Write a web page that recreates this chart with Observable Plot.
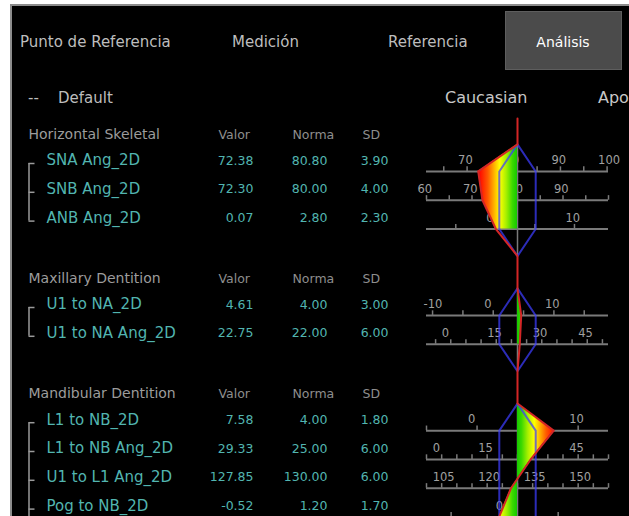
<!DOCTYPE html>
<html><head><meta charset="utf-8">
<script src="https://cdn.jsdelivr.net/npm/d3@7"></script>
<script src="https://cdn.jsdelivr.net/npm/@observablehq/plot@0.6"></script>
<style>
html,body{margin:0;padding:0;background:#fff;}
#wrap{position:relative;width:629px;height:516px;overflow:hidden;background:#fff;font-family:"DejaVu Sans",sans-serif;}
#frame{position:absolute;left:10px;top:4px;width:640px;height:540px;background:#000;border-left:2px solid #8c8c8c;border-top:2px solid #8c8c8c;}
.lbl{position:absolute;white-space:nowrap;transform:translateY(-50%);font-size:15px;color:#bdbdbd;line-height:1;}
#tab{position:absolute;left:505px;top:11px;width:117px;height:59px;background:#4b4b4b;box-shadow:inset 0 0 0 1px #5e5e5e;}
#chart svg{position:absolute;left:0;top:0;}
</style></head>
<body>
<div id="wrap"><div id="frame"></div><div id="tab"></div><div id="hdr"></div><div id="chart"></div></div>
<script>
// ---------- data ----------
const tabs = ["Punto de Referencia", "Medición", "Referencia", "Análisis"];
const activeTab = "Análisis";
const profileLabel = "Default";
const populations = ["Caucasian", "Apo"];
const sections = ["Horizontal Skeletal", "Maxillary Dentition", "Mandibular Dentition"];
const columns = ["Valor", "Norma", "SD"];
const rowSection = [0, 0, 0, 1, 1, 2, 2, 2, 2];
const names = ["SNA Ang_2D", "SNB Ang_2D", "ANB Ang_2D", "U1 to NA_2D", "U1 to NA Ang_2D",
               "L1 to NB_2D", "L1 to NB Ang_2D", "U1 to L1 Ang_2D", "Pog to NB_2D"];
const valor = [72.38, 72.30, 0.07, 4.61, 22.75, 7.58, 29.33, 127.85, -0.52];
const norma = [80.80, 80.00, 2.80, 4.00, 22.00, 4.00, 25.00, 130.00, 1.20];
const sd    = [3.90, 4.00, 2.30, 3.00, 6.00, 1.80, 6.00, 6.00, 1.70];
const tickLabels = [[70, 80, 90, 100], [60, 70, 80, 90], [0, 10], [-10, 0, 10], [0, 15, 30, 45],
                    [0, 10], [0, 15, 30, 45], [105, 120, 135, 150], [0]];

// ---------- layout ----------
const TEAL = "#52b5b0", GRAY = "#9c9c9c";
const X_SCALE = {domain: [-5, 5], range: [426, 608]};
const Y_SCALE = {domain: [-5, 13], range: [160 - 5 * 28.8, 160 + 13 * 28.8]};
const SECTION_START = [0, 5, 9];
const AX = 0.38, VTX = 0.94, TITLE = 0.9, RED_START = -1.46;
const xs = Plot.scale({x: X_SCALE});
const at = px => xs.invert(px);

// header (HTML)
const hdr = document.getElementById("hdr");
const tabX = [20, 232, 388, 563];
tabs.forEach((t, k) => {
  const el = document.createElement("div");
  el.className = "lbl"; el.textContent = t;
  el.style.left = tabX[k] + "px"; el.style.top = "42px";
  if (t === activeTab) { el.style.color = "#fff"; el.style.fontSize = "14px"; el.style.transform = "translate(-50%,-50%)"; }
  hdr.appendChild(el);
});
[["--", 28], [profileLabel, 58], [populations[0], 445], [populations[1], 598]].forEach(([t, x]) => {
  const el = document.createElement("div");
  el.className = "lbl"; el.textContent = t;
  el.style.left = x + "px"; el.style.top = "98px";
  if (x > 400) { el.style.fontSize = "16px"; el.style.color = "#c8c8c8"; }
  hdr.appendChild(el);
});

// rows
const counters = [0, 0, 0];
const rows = names.map((name, i) => {
  const s = rowSection[i];
  const slot = SECTION_START[s] + counters[s]++;
  return {i, name, s, slot, axis: slot + AX, vals: [valor[i], norma[i], sd[i]],
          norma: norma[i], sd: sd[i], z: (valor[i] - norma[i]) / sd[i]};
});
const secs = sections.map((title, s) => {
  const rs = rows.filter(r => r.s === s);
  return {title, s, rs, titleSlot: rs[0].slot - TITLE,
          top: rs[0].axis - VTX, bottom: rs[rs.length - 1].axis + VTX,
          first: rs[0].slot, last: rs[rs.length - 1].slot,
          a0: rs[0].axis, a1: rs[rs.length - 1].axis};
});

const ticks = rows.flatMap(r => {
  const lo = Math.ceil((r.norma - 5 * r.sd) / 5 - 1e-9) * 5;
  const hi = Math.floor((r.norma + 5 * r.sd) / 5 + 1e-9) * 5;
  return d3.range(lo, hi + 0.001, 5).map(v => ({z: (v - r.norma) / r.sd, axis: r.axis}));
});
const labels = rows.flatMap(r => tickLabels[r.i].map(v => ({z: (v - r.norma) / r.sd, slot: r.slot, text: String(v)})));
const fillPts = secs.flatMap(S => [{z: 0, y: S.top, s: S.s}, ...S.rs.map(r => ({z: r.z, y: r.axis, s: S.s}))]);
const hexPts = secs.flatMap(S => [[0, S.top], [-1, S.a0], [-1, S.a1], [0, S.bottom], [1, S.a1], [1, S.a0], [0, S.top]]
  .map(([z, y]) => ({z, y, s: S.s})));
const redPts = [{z: 0, y: RED_START}, ...secs.flatMap(S => [{z: 0, y: S.top}, ...S.rs.map(r => ({z: r.z, y: r.axis})), {z: 0, y: S.bottom}])];
const headers = secs.flatMap(S => columns.map((c, k) => ({k, text: c, slot: S.titleSlot})));
const HEAD_X = [218, 292, 362], VAL_X = [253, 327, 388];
const lastS = sections.length - 1;

const plot = Plot.plot({
  width: 629, height: 516, margin: 0,
  x: {...X_SCALE, axis: null},
  y: {...Y_SCALE, axis: null},
  style: {background: "transparent", fontFamily: "DejaVu Sans, sans-serif"},
  marks: [
    // table
    Plot.text(secs, {x: () => at(28), y: "titleSlot", text: "title", textAnchor: "start", fill: GRAY, fontSize: 14}),
    Plot.text(headers, {x: d => at(HEAD_X[d.k]), y: "slot", text: "text", textAnchor: "start", fill: "#8e8e8e", fontSize: 12.5}),
    Plot.text(rows, {x: () => at(46), y: "slot", text: "name", textAnchor: "start", fill: TEAL, fontSize: 15}),
    ...[0, 1, 2].map(k => Plot.text(rows, {x: () => at(VAL_X[k]), y: "slot", text: d => d.vals[k].toFixed(2), textAnchor: "end", fill: TEAL, fontSize: 12.5})),
    Plot.ruleX(secs, {x: () => at(28.5), y1: d => d.first, y2: d => d.s === lastS ? 13 : d.last, dy: 3, stroke: "#9a9a9a", strokeWidth: 1.5}),
    Plot.ruleY(rows, {y: "slot", x1: () => at(28.5), x2: () => at(34.5), dy: 3, stroke: "#9a9a9a", strokeWidth: 1.5}),
    // chart axes
    Plot.ruleY(rows, {y: "axis", x1: -5, x2: 5, stroke: "#7a7a7a", strokeWidth: 2}),
    Plot.ruleX(ticks, {x: "z", y1: "axis", y2: d => d.axis - 0.16, stroke: "#7a7a7a", strokeWidth: 1.5}),
    Plot.text(labels, {x: "z", y: "slot", text: "text", textAnchor: "start", dx: -9, fill: "#a0a0a0", fontSize: 11.5}),
    Plot.ruleX(secs, {x: 0, y1: "top", y2: "bottom", stroke: "#7a7a7a", strokeWidth: 1.5}),
    // value area
    Plot.areaX(fillPts, {x1: 0, x2: "z", y: "y", z: "s", fill: "url(#zgrad)", curve: "linear"}),
    Plot.line(hexPts, {x: "z", y: "y", z: "s", stroke: "#3d3dff", strokeWidth: 2, strokeOpacity: 0.72, curve: "linear"}),
    Plot.line(redPts, {x: "z", y: "y", stroke: "#d42626", strokeWidth: 2, curve: "linear"})
  ]
});

// gradient by distance from norm (in SD units)
const ns = "http://www.w3.org/2000/svg";
const defs = document.createElementNS(ns, "defs");
const grad = document.createElementNS(ns, "linearGradient");
grad.setAttribute("id", "zgrad");
grad.setAttribute("gradientUnits", "userSpaceOnUse");
const zr = 2.1;
grad.setAttribute("x1", xs.apply(-zr)); grad.setAttribute("x2", xs.apply(zr));
grad.setAttribute("y1", 0); grad.setAttribute("y2", 0);
const stops = [[-2.1, "#ff0000"], [-1.6, "#ff5a00"], [-1.25, "#ffb400"], [-0.95, "#ffff00"], [-0.6, "#a8f000"], [-0.25, "#3cd800"], [0, "#14c800"],
               [0.25, "#3cd800"], [0.6, "#a8f000"], [0.95, "#ffff00"], [1.25, "#ffb400"], [1.6, "#ff5a00"], [2.1, "#ff0000"]];
stops.forEach(([z, c]) => {
  const st = document.createElementNS(ns, "stop");
  st.setAttribute("offset", (z + zr) / (2 * zr));
  st.setAttribute("stop-color", c);
  grad.appendChild(st);
});
defs.appendChild(grad);
plot.insertBefore(defs, plot.firstChild);
document.getElementById("chart").appendChild(plot);
</script>
</body></html>
